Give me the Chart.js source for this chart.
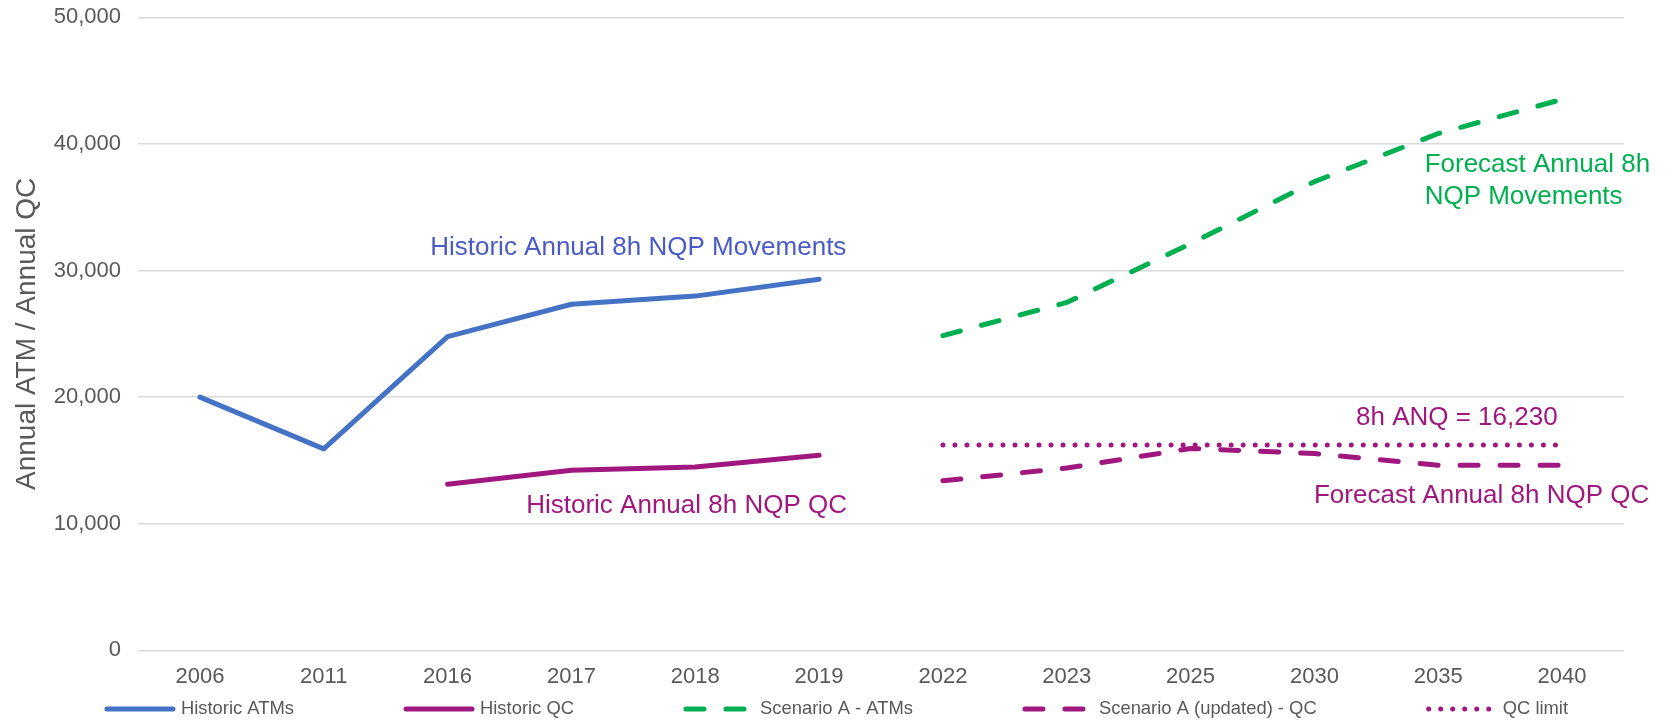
<!DOCTYPE html>
<html>
<head>
<meta charset="utf-8">
<script src="https://cdn.jsdelivr.net/npm/chart.js@4.4.0/dist/chart.umd.min.js"></script>
<style>
    body { margin: 0; background: #fff; }
    .chartBox { width: 1675px; height: 721px; }
</style>
</head>
<body>
<div class="chartBox"><canvas id="myChart"></canvas></div>
<script>
let years = ['2006', '2011', '2016', '2017', '2018', '2019', '2022', '2023', '2025', '2030', '2035', '2040'];
let historicAtms = [20000, 15920, 24780, 27340, 27980, 29320, null, null, null, null, null, null];
let historicQc = [null, null, 13130, 14230, 14490, 15410, null, null, null, null, null, null];
let scenarioAtms = [null, null, null, null, null, null, 24860, 27480, 32120, 37020, 40820, 43520];
let scenarioQc = [null, null, null, null, null, null, 13390, 14400, 15950, 15550, 14620, 14620];
let qcLimit = [null, null, null, null, null, null, 16230, 16230, 16230, 16230, 16230, 16230];

let blue = '#4472c4';
let purple = '#a0177f';
let green = '#00b050';
let grey = '#595959';

// text labels on the plot, anchored to category index / value
let notes = [
    { text: 'Historic Annual 8h NQP Movements', at: [3.54, 31770], align: 'center', color: '#4a5bc6' },
    { text: 'Historic Annual 8h NQP QC', at: [3.93, 11380], align: 'center', color: purple },
    { text: '8h ANQ = 16,230', at: [10.15, 18370], align: 'center', color: purple },
    { text: 'Forecast Annual 8h NQP QC', at: [10.35, 12170], align: 'center', color: purple },
    { text: 'Forecast Annual 8h', at: [9.89, 38370], align: 'left', color: green },
    { text: 'NQP Movements', at: [9.89, 35820], align: 'left', color: green }
];

const noteLabels = {
    id: 'noteLabels',
    afterDatasetsDraw(chart) {
        let ctx = chart.ctx;
        let xs = chart.scales.x;
        let ys = chart.scales.y;
        ctx.save();
        ctx.font = '26px "Liberation Sans", Arial, sans-serif';
        ctx.textBaseline = 'middle';
        notes.forEach(n => {
            ctx.fillStyle = n.color;
            ctx.textAlign = n.align;
            ctx.fillText(n.text, xs.getPixelForValue(n.at[0]), ys.getPixelForValue(n.at[1]));
        });
        ctx.restore();
    }
};

const lineLegend = {
    id: 'lineLegend',
    afterDraw(chart) {
        let ctx = chart.ctx;
        let sets = chart.data.datasets;
        let sample = 66, textGap = 8, itemGap = 112;
        ctx.save();
        ctx.font = '18.4px "Liberation Sans", Arial, sans-serif';
        let widths = sets.map(s => ctx.measureText(s.label).width);
        let total = widths.reduce((a, w) => a + sample + textGap + w, 0) + itemGap * (sets.length - 1);
        let x = (chart.width - total) / 2;
        let y = 709;
        sets.forEach((s, i) => {
            ctx.beginPath();
            ctx.setLineDash(s.borderDash || []);
            ctx.lineCap = 'round';
            ctx.lineWidth = s.borderWidth;
            ctx.strokeStyle = s.borderColor;
            ctx.moveTo(x, y);
            ctx.lineTo(x + sample, y);
            ctx.stroke();
            ctx.setLineDash([]);
            ctx.fillStyle = grey;
            ctx.textAlign = 'left';
            ctx.textBaseline = 'middle';
            ctx.fillText(s.label, x + sample + textGap, y);
            x += sample + textGap + widths[i] + itemGap;
        });
        ctx.restore();
    }
};

function lineSet(label, data, color, dash, width) {
    return {
        label: label,
        data: data,
        borderColor: color,
        backgroundColor: color,
        borderWidth: width,
        borderDash: dash,
        borderCapStyle: 'round',
        borderJoinStyle: 'round',
        pointRadius: 0,
        pointHoverRadius: 0,
        tension: 0,
        fill: false
    };
}

let myChart = new Chart(document.getElementById('myChart'), {
    type: 'line',
    data: {
        labels: years,
        datasets: [
            lineSet('Historic ATMs', historicAtms, blue, [], 5),
            lineSet('Historic QC', historicQc, purple, [], 5),
            lineSet('Scenario A - ATMs', scenarioAtms, green, [18, 22], 5),
            lineSet('Scenario A (updated) - QC', scenarioQc, purple, [18, 22], 5),
            lineSet('QC limit', qcLimit, purple, [0.01, 12], 5)
        ]
    },
    options: {
        responsive: true,
        maintainAspectRatio: false,
        animation: false,
        layout: { padding: { top: 17.3, right: 51, bottom: 18.2, left: 0 } },
        plugins: {
            legend: { display: false },
            tooltip: { enabled: false }
        },
        scales: {
            x: {
                offset: true,
                grid: { display: false, drawTicks: false },
                border: { display: false },
                ticks: {
                    color: grey,
                    padding: 13,
                    font: { family: '"Liberation Sans", Arial, sans-serif', size: 22 }
                }
            },
            y: {
                min: 0,
                max: 50000,
                afterFit: scale => {
                    scale.width = 138;
                    scale.paddingTop = 0;
                    scale.paddingBottom = 0;
                },
                grid: { color: '#d9d9d9', lineWidth: 1.5, drawTicks: false },
                border: { display: false },
                ticks: {
                    stepSize: 10000,
                    color: grey,
                    padding: 17,
                    font: { family: '"Liberation Sans", Arial, sans-serif', size: 22 },
                    callback: v => v.toLocaleString('en-US')
                },
                title: {
                    display: true,
                    text: 'Annual ATM / Annual QC',
                    color: grey,
                    padding: { top: 10, bottom: 0 },
                    font: { family: '"Liberation Sans", Arial, sans-serif', size: 28 }
                }
            }
        }
    },
    plugins: [noteLabels, lineLegend]
});
</script>
</body>
</html>
